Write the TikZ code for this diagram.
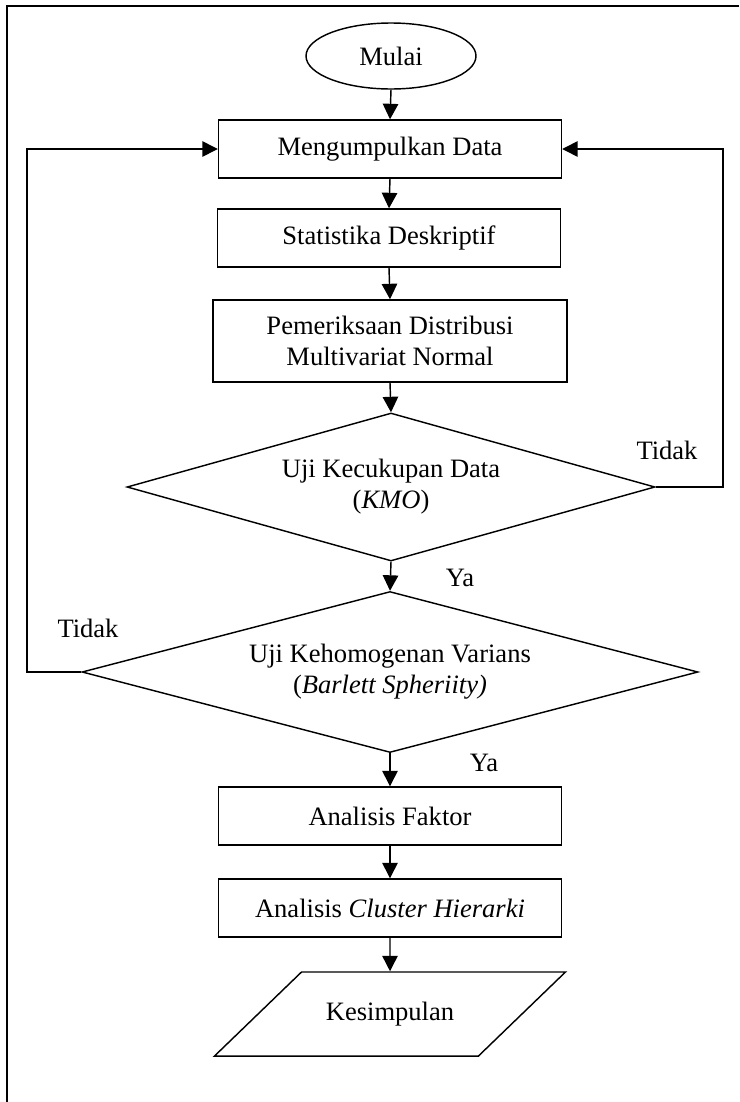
\documentclass[tikz,border=0pt]{standalone}
\usepackage{fontspec}
\setmainfont{Liberation Serif}
\usetikzlibrary{shapes.geometric, arrows.meta}
\def\pxu{0.452pt}
\tikzset{
  garis/.style={line width=0.65pt},
  proses/.style={draw, garis, rectangle, minimum width=343*\pxu, minimum height=58*\pxu, inner sep=0pt, align=center},
  putusan/.style={draw, garis, diamond, aspect=3.5, inner sep=0pt, align=center},
  terminal/.style={draw, garis, ellipse, minimum width=170*\pxu, minimum height=66*\pxu, inner sep=0pt},
  keluaran/.style={draw, garis, trapezium, trapezium left angle=44, trapezium right angle=136, trapezium stretches body, minimum width=351*\pxu, inner xsep=0pt, inner ysep=30*\pxu},
  panah/.style={garis, -{Triangle[length=7pt, width=7pt]}},
  teks/.style={inner sep=0pt},
}

\begin{document}
\begin{tikzpicture}[x=\pxu, y=-\pxu, font=\fontsize{12}{14}\selectfont]
\useasboundingbox (0,0) rectangle (739,1102);
\draw[garis] (7,1102) -- (7,6) -- (739,6);
\node[terminal] (mulai) at (391,56) {Mulai};
\node[proses] (data) at (390,149) {Mengumpulkan Data};
\node[proses] (stat) at (389,238) {Statistika Deskriptif};
\node[proses, minimum width=354*\pxu, minimum height=82*\pxu] (normal) at (390,341) {Pemeriksaan Distribusi\\Multivariat Normal};
\node[putusan, minimum width=528*\pxu, minimum height=148*\pxu] (kmo) at (391,487) {Uji Kecukupan Data\\(\textit{KMO})};
\node[putusan, minimum width=616*\pxu, minimum height=161*\pxu] (bart) at (390,672) {Uji Kehomogenan Varians\\(\textit{Barlett Spheriity)}};
\node[proses] (faktor) at (390,816) {Analisis Faktor};
\node[proses] (clus) at (390,908) {Analisis \textit{Cluster Hierarki}};
\node[keluaran] (kes) at (390,1014) {Kesimpulan};
\coordinate (kanan) at (723,0);
\coordinate (kiri) at (27,0);
\foreach \a/\b in {mulai/data, data/stat, stat/normal, normal/kmo, kmo/bart, bart/faktor, faktor/clus, clus/kes} {
    \draw[panah] (\a.south) -- (\b.north);
}
\draw[panah] (kmo.east) -| (kanan |- data.east) -- (data.east);
\draw[panah] (bart.west) -| (kiri |- data.west) -- (data.west);
\node[teks] (tidak1) at (667,450) {Tidak};
\node[teks] (tidak2) at (88,628) {Tidak};
\node[teks] (ya1) at (460,578) {Ya};
\node[teks] (ya2) at (484,763) {Ya};
\end{tikzpicture}
\end{document}
